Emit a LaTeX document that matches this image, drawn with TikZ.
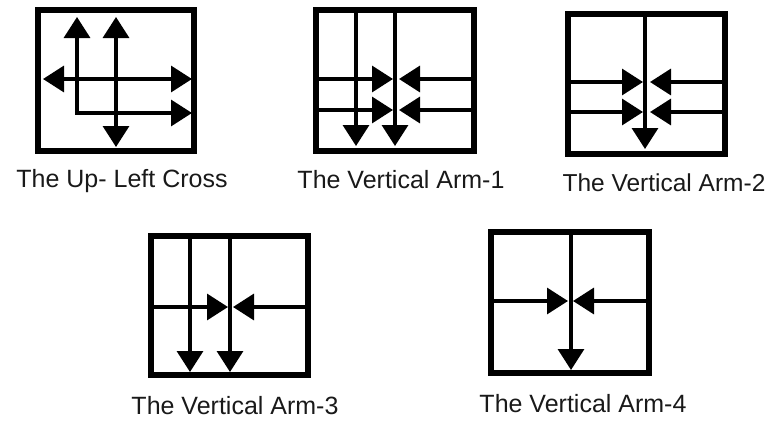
\documentclass[tikz,border=0pt]{standalone}
\usepackage{fontspec}
\setmainfont{Liberation Sans}
\usetikzlibrary{arrows.meta}
\definecolor{txt}{RGB}{25,25,25}
\tikzset{
  frame/.style={draw=black, line width=6.5pt, line join=miter},
  thin/.style={draw=black, line width=3.3pt},
  arr/.style={thin, -{Triangle[length=21pt,width=26pt]}},
  arrboth/.style={thin, {Triangle[length=21pt,width=26pt]}-{Triangle[length=21pt,width=26pt]}},
  lbl/.style={font=\fontsize{25}{29}\selectfont, text=txt, anchor=base, inner sep=0pt}
}
\begin{document}
\begin{tikzpicture}[x=1pt,y=-1pt]
\useasboundingbox (0,0) rectangle (772,423);
% ---- Box 1: The Up- Left Cross
\draw[frame] (38,10) rectangle (194,151);
\coordinate (a1t) at (77,17);
\coordinate (a1r) at (192,113);
\coordinate (a2t) at (116,17);
\coordinate (a2b) at (116,147);
\coordinate (a3l) at (43,79);
\coordinate (a3r) at (192,79);
\draw[arrboth] (a1t) |- (a1r);
\draw[arrboth] (a2t) -- (a2b);
\draw[arrboth] (a3l) -- (a3r);
\node[lbl] (l1) at (122,187) {The Up- Left Cross};
% ---- Box 2: The Vertical Arm-1
\draw[frame] (316,10) rectangle (474,151);
\coordinate (b1t) at (356,10); \coordinate (b1b) at (356,146);
\coordinate (b2t) at (395,10); \coordinate (b2b) at (395,146);
\coordinate (b3l) at (316,79); \coordinate (b3m) at (393,79);
\coordinate (b3r) at (474,79); \coordinate (b3n) at (399,79);
\coordinate (b4l) at (316,110); \coordinate (b4m) at (393,110);
\coordinate (b4r) at (474,110); \coordinate (b4n) at (399,110);
\draw[arr] (b1t) -- (b1b);
\draw[arr] (b2t) -- (b2b);
\draw[arr] (b3l) -- (b3m);
\draw[arr] (b3r) -- (b3n);
\draw[arr] (b4l) -- (b4m);
\draw[arr] (b4r) -- (b4n);
\node[lbl] (l2) at (401,188) {The Vertical Arm-1};
% ---- Box 3: The Vertical Arm-2
\draw[frame] (568,14) rectangle (725,154);
\coordinate (c1t) at (645,14); \coordinate (c1b) at (645,149);
\coordinate (c2l) at (568,82); \coordinate (c2m) at (643,82);
\coordinate (c2r) at (725,82); \coordinate (c2n) at (650,82);
\coordinate (c3l) at (568,112); \coordinate (c3m) at (643,112);
\coordinate (c3r) at (725,112); \coordinate (c3n) at (650,112);
\draw[arr] (c1t) -- (c1b);
\draw[arr] (c2l) -- (c2m);
\draw[arr] (c2r) -- (c2n);
\draw[arr] (c3l) -- (c3m);
\draw[arr] (c3r) -- (c3n);
\node[lbl, font=\fontsize{24.5}{29}\selectfont] (l3) at (664,191) {The Vertical Arm-2};
% ---- Box 4: The Vertical Arm-3
\draw[frame] (151,236) rectangle (308,375);
\coordinate (d1t) at (190,236); \coordinate (d1b) at (190,372);
\coordinate (d2t) at (230,236); \coordinate (d2b) at (230,372);
\coordinate (d3l) at (151,307); \coordinate (d3m) at (228,307);
\coordinate (d3r) at (308,307); \coordinate (d3n) at (233,307);
\draw[arr] (d1t) -- (d1b);
\draw[arr] (d2t) -- (d2b);
\draw[arr] (d3l) -- (d3m);
\draw[arr] (d3r) -- (d3n);
\node[lbl] (l4) at (235,414) {The Vertical Arm-3};
% ---- Box 5: The Vertical Arm-4
\draw[frame] (491,232) rectangle (649,373);
\coordinate (e1t) at (571,232); \coordinate (e1b) at (571,370);
\coordinate (e2l) at (491,301); \coordinate (e2m) at (568,301);
\coordinate (e2r) at (649,301); \coordinate (e2n) at (573,301);
\draw[arr] (e1t) -- (e1b);
\draw[arr] (e2l) -- (e2m);
\draw[arr] (e2r) -- (e2n);
\node[lbl] (l5) at (583,412) {The Vertical Arm-4};
\end{tikzpicture}
\end{document}
